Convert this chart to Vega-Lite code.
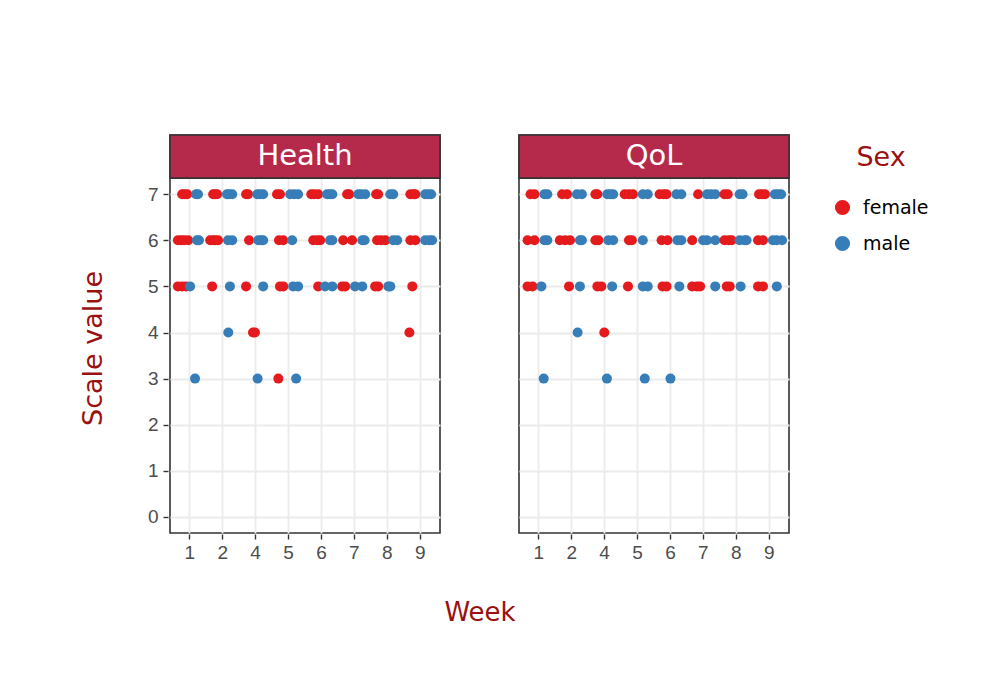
{
  "$schema": "https://vega.github.io/schema/vega-lite/v6.json",
  "background": "white",
  "padding": {"left": 79, "top": 133, "right": 10, "bottom": 10},
  "config": {
    "view": {"stroke": "#333333", "strokeWidth": 1.6},
    "font": "DejaVu Sans"
  },
  "data": {"values": [
    {"panel":"Health","week":1,"jitter":-0.23,"value":7,"sex":"female"},
    {"panel":"Health","week":1,"jitter":-0.17,"value":7,"sex":"female"},
    {"panel":"Health","week":1,"jitter":-0.08,"value":7,"sex":"female"},
    {"panel":"Health","week":1,"jitter":0.19,"value":7,"sex":"male"},
    {"panel":"Health","week":1,"jitter":0.25,"value":7,"sex":"male"},
    {"panel":"Health","week":2,"jitter":-0.29,"value":7,"sex":"female"},
    {"panel":"Health","week":2,"jitter":-0.23,"value":7,"sex":"female"},
    {"panel":"Health","week":2,"jitter":-0.17,"value":7,"sex":"female"},
    {"panel":"Health","week":2,"jitter":0.13,"value":7,"sex":"male"},
    {"panel":"Health","week":2,"jitter":0.19,"value":7,"sex":"male"},
    {"panel":"Health","week":2,"jitter":0.29,"value":7,"sex":"male"},
    {"panel":"Health","week":4,"jitter":-0.29,"value":7,"sex":"female"},
    {"panel":"Health","week":4,"jitter":-0.23,"value":7,"sex":"female"},
    {"panel":"Health","week":4,"jitter":0.05,"value":7,"sex":"male"},
    {"panel":"Health","week":4,"jitter":0.14,"value":7,"sex":"male"},
    {"panel":"Health","week":4,"jitter":0.23,"value":7,"sex":"male"},
    {"panel":"Health","week":5,"jitter":-0.35,"value":7,"sex":"female"},
    {"panel":"Health","week":5,"jitter":-0.26,"value":7,"sex":"female"},
    {"panel":"Health","week":5,"jitter":0.05,"value":7,"sex":"male"},
    {"panel":"Health","week":5,"jitter":0.17,"value":7,"sex":"male"},
    {"panel":"Health","week":5,"jitter":0.29,"value":7,"sex":"male"},
    {"panel":"Health","week":6,"jitter":-0.31,"value":7,"sex":"female"},
    {"panel":"Health","week":6,"jitter":-0.22,"value":7,"sex":"female"},
    {"panel":"Health","week":6,"jitter":-0.10,"value":7,"sex":"female"},
    {"panel":"Health","week":6,"jitter":0.17,"value":7,"sex":"male"},
    {"panel":"Health","week":6,"jitter":0.26,"value":7,"sex":"male"},
    {"panel":"Health","week":6,"jitter":0.33,"value":7,"sex":"male"},
    {"panel":"Health","week":7,"jitter":-0.22,"value":7,"sex":"female"},
    {"panel":"Health","week":7,"jitter":-0.16,"value":7,"sex":"female"},
    {"panel":"Health","week":7,"jitter":0.12,"value":7,"sex":"male"},
    {"panel":"Health","week":7,"jitter":0.21,"value":7,"sex":"male"},
    {"panel":"Health","week":7,"jitter":0.33,"value":7,"sex":"male"},
    {"panel":"Health","week":8,"jitter":-0.34,"value":7,"sex":"female"},
    {"panel":"Health","week":8,"jitter":-0.28,"value":7,"sex":"female"},
    {"panel":"Health","week":8,"jitter":0.09,"value":7,"sex":"male"},
    {"panel":"Health","week":8,"jitter":0.18,"value":7,"sex":"male"},
    {"panel":"Health","week":9,"jitter":-0.30,"value":7,"sex":"female"},
    {"panel":"Health","week":9,"jitter":-0.21,"value":7,"sex":"female"},
    {"panel":"Health","week":9,"jitter":-0.15,"value":7,"sex":"female"},
    {"panel":"Health","week":9,"jitter":0.15,"value":7,"sex":"male"},
    {"panel":"Health","week":9,"jitter":0.24,"value":7,"sex":"male"},
    {"panel":"Health","week":9,"jitter":0.33,"value":7,"sex":"male"},

    {"panel":"Health","week":1,"jitter":-0.36,"value":6,"sex":"female"},
    {"panel":"Health","week":1,"jitter":-0.26,"value":6,"sex":"female"},
    {"panel":"Health","week":1,"jitter":-0.17,"value":6,"sex":"female"},
    {"panel":"Health","week":1,"jitter":-0.05,"value":6,"sex":"female"},
    {"panel":"Health","week":1,"jitter":0.22,"value":6,"sex":"male"},
    {"panel":"Health","week":1,"jitter":0.28,"value":6,"sex":"male"},
    {"panel":"Health","week":2,"jitter":-0.38,"value":6,"sex":"female"},
    {"panel":"Health","week":2,"jitter":-0.29,"value":6,"sex":"female"},
    {"panel":"Health","week":2,"jitter":-0.23,"value":6,"sex":"female"},
    {"panel":"Health","week":2,"jitter":-0.14,"value":6,"sex":"female"},
    {"panel":"Health","week":2,"jitter":0.16,"value":6,"sex":"male"},
    {"panel":"Health","week":2,"jitter":0.29,"value":6,"sex":"male"},
    {"panel":"Health","week":4,"jitter":-0.20,"value":6,"sex":"female"},
    {"panel":"Health","week":4,"jitter":0.08,"value":6,"sex":"male"},
    {"panel":"Health","week":4,"jitter":0.17,"value":6,"sex":"male"},
    {"panel":"Health","week":4,"jitter":0.23,"value":6,"sex":"male"},
    {"panel":"Health","week":5,"jitter":-0.29,"value":6,"sex":"female"},
    {"panel":"Health","week":5,"jitter":-0.16,"value":6,"sex":"female"},
    {"panel":"Health","week":5,"jitter":0.11,"value":6,"sex":"male"},
    {"panel":"Health","week":6,"jitter":-0.25,"value":6,"sex":"female"},
    {"panel":"Health","week":6,"jitter":-0.13,"value":6,"sex":"female"},
    {"panel":"Health","week":6,"jitter":-0.04,"value":6,"sex":"female"},
    {"panel":"Health","week":6,"jitter":0.26,"value":6,"sex":"male"},
    {"panel":"Health","week":6,"jitter":0.33,"value":6,"sex":"male"},
    {"panel":"Health","week":7,"jitter":-0.34,"value":6,"sex":"female"},
    {"panel":"Health","week":7,"jitter":-0.07,"value":6,"sex":"female"},
    {"panel":"Health","week":7,"jitter":0.24,"value":6,"sex":"male"},
    {"panel":"Health","week":7,"jitter":0.31,"value":6,"sex":"male"},
    {"panel":"Health","week":8,"jitter":-0.31,"value":6,"sex":"female"},
    {"panel":"Health","week":8,"jitter":-0.19,"value":6,"sex":"female"},
    {"panel":"Health","week":8,"jitter":-0.06,"value":6,"sex":"female"},
    {"panel":"Health","week":8,"jitter":0.18,"value":6,"sex":"male"},
    {"panel":"Health","week":8,"jitter":0.30,"value":6,"sex":"male"},
    {"panel":"Health","week":9,"jitter":-0.30,"value":6,"sex":"female"},
    {"panel":"Health","week":9,"jitter":-0.15,"value":6,"sex":"female"},
    {"panel":"Health","week":9,"jitter":0.15,"value":6,"sex":"male"},
    {"panel":"Health","week":9,"jitter":0.27,"value":6,"sex":"male"},
    {"panel":"Health","week":9,"jitter":0.36,"value":6,"sex":"male"},

    {"panel":"Health","week":1,"jitter":-0.36,"value":5,"sex":"female"},
    {"panel":"Health","week":1,"jitter":-0.23,"value":5,"sex":"female"},
    {"panel":"Health","week":1,"jitter":-0.11,"value":5,"sex":"female"},
    {"panel":"Health","week":1,"jitter":0.01,"value":5,"sex":"male"},
    {"panel":"Health","week":2,"jitter":-0.32,"value":5,"sex":"female"},
    {"panel":"Health","week":2,"jitter":0.22,"value":5,"sex":"male"},
    {"panel":"Health","week":4,"jitter":-0.29,"value":5,"sex":"female"},
    {"panel":"Health","week":4,"jitter":0.23,"value":5,"sex":"male"},
    {"panel":"Health","week":5,"jitter":-0.26,"value":5,"sex":"female"},
    {"panel":"Health","week":5,"jitter":-0.16,"value":5,"sex":"female"},
    {"panel":"Health","week":5,"jitter":0.14,"value":5,"sex":"male"},
    {"panel":"Health","week":5,"jitter":0.29,"value":5,"sex":"male"},
    {"panel":"Health","week":6,"jitter":-0.10,"value":5,"sex":"female"},
    {"panel":"Health","week":6,"jitter":0.11,"value":5,"sex":"male"},
    {"panel":"Health","week":6,"jitter":0.33,"value":5,"sex":"male"},
    {"panel":"Health","week":7,"jitter":-0.37,"value":5,"sex":"female"},
    {"panel":"Health","week":7,"jitter":-0.28,"value":5,"sex":"female"},
    {"panel":"Health","week":7,"jitter":0.02,"value":5,"sex":"male"},
    {"panel":"Health","week":7,"jitter":0.24,"value":5,"sex":"male"},
    {"panel":"Health","week":8,"jitter":-0.37,"value":5,"sex":"female"},
    {"panel":"Health","week":8,"jitter":-0.28,"value":5,"sex":"female"},
    {"panel":"Health","week":8,"jitter":0.03,"value":5,"sex":"male"},
    {"panel":"Health","week":8,"jitter":0.09,"value":5,"sex":"male"},
    {"panel":"Health","week":9,"jitter":-0.24,"value":5,"sex":"female"},

    {"panel":"Health","week":2,"jitter":0.17,"value":4,"sex":"male"},
    {"panel":"Health","week":4,"jitter":-0.08,"value":4,"sex":"female"},
    {"panel":"Health","week":4,"jitter":-0.02,"value":4,"sex":"female"},
    {"panel":"Health","week":9,"jitter":-0.33,"value":4,"sex":"female"},
    {"panel":"Health","week":1,"jitter":0.16,"value":3,"sex":"male"},
    {"panel":"Health","week":4,"jitter":0.06,"value":3,"sex":"male"},
    {"panel":"Health","week":5,"jitter":-0.31,"value":3,"sex":"female"},
    {"panel":"Health","week":5,"jitter":0.23,"value":3,"sex":"male"},

    {"panel":"QoL","week":1,"jitter":-0.25,"value":7,"sex":"female"},
    {"panel":"QoL","week":1,"jitter":-0.13,"value":7,"sex":"female"},
    {"panel":"QoL","week":1,"jitter":0.17,"value":7,"sex":"male"},
    {"panel":"QoL","week":1,"jitter":0.26,"value":7,"sex":"male"},
    {"panel":"QoL","week":2,"jitter":-0.29,"value":7,"sex":"female"},
    {"panel":"QoL","week":2,"jitter":-0.14,"value":7,"sex":"female"},
    {"panel":"QoL","week":2,"jitter":0.16,"value":7,"sex":"male"},
    {"panel":"QoL","week":2,"jitter":0.31,"value":7,"sex":"male"},
    {"panel":"QoL","week":4,"jitter":-0.28,"value":7,"sex":"female"},
    {"panel":"QoL","week":4,"jitter":-0.22,"value":7,"sex":"female"},
    {"panel":"QoL","week":4,"jitter":0.08,"value":7,"sex":"male"},
    {"panel":"QoL","week":4,"jitter":0.17,"value":7,"sex":"male"},
    {"panel":"QoL","week":4,"jitter":0.26,"value":7,"sex":"male"},
    {"panel":"QoL","week":5,"jitter":-0.39,"value":7,"sex":"female"},
    {"panel":"QoL","week":5,"jitter":-0.26,"value":7,"sex":"female"},
    {"panel":"QoL","week":5,"jitter":-0.14,"value":7,"sex":"female"},
    {"panel":"QoL","week":5,"jitter":0.16,"value":7,"sex":"male"},
    {"panel":"QoL","week":5,"jitter":0.31,"value":7,"sex":"male"},
    {"panel":"QoL","week":6,"jitter":-0.33,"value":7,"sex":"female"},
    {"panel":"QoL","week":6,"jitter":-0.21,"value":7,"sex":"female"},
    {"panel":"QoL","week":6,"jitter":-0.12,"value":7,"sex":"female"},
    {"panel":"QoL","week":6,"jitter":0.18,"value":7,"sex":"male"},
    {"panel":"QoL","week":6,"jitter":0.33,"value":7,"sex":"male"},
    {"panel":"QoL","week":7,"jitter":-0.16,"value":7,"sex":"female"},
    {"panel":"QoL","week":7,"jitter":0.11,"value":7,"sex":"male"},
    {"panel":"QoL","week":7,"jitter":0.23,"value":7,"sex":"male"},
    {"panel":"QoL","week":7,"jitter":0.36,"value":7,"sex":"male"},
    {"panel":"QoL","week":8,"jitter":-0.36,"value":7,"sex":"female"},
    {"panel":"QoL","week":8,"jitter":-0.26,"value":7,"sex":"female"},
    {"panel":"QoL","week":8,"jitter":0.10,"value":7,"sex":"male"},
    {"panel":"QoL","week":8,"jitter":0.19,"value":7,"sex":"male"},
    {"panel":"QoL","week":9,"jitter":-0.31,"value":7,"sex":"female"},
    {"panel":"QoL","week":9,"jitter":-0.22,"value":7,"sex":"female"},
    {"panel":"QoL","week":9,"jitter":-0.13,"value":7,"sex":"female"},
    {"panel":"QoL","week":9,"jitter":0.17,"value":7,"sex":"male"},
    {"panel":"QoL","week":9,"jitter":0.26,"value":7,"sex":"male"},
    {"panel":"QoL","week":9,"jitter":0.36,"value":7,"sex":"male"},

    {"panel":"QoL","week":1,"jitter":-0.34,"value":6,"sex":"female"},
    {"panel":"QoL","week":1,"jitter":-0.13,"value":6,"sex":"female"},
    {"panel":"QoL","week":1,"jitter":0.17,"value":6,"sex":"male"},
    {"panel":"QoL","week":1,"jitter":0.26,"value":6,"sex":"male"},
    {"panel":"QoL","week":2,"jitter":-0.36,"value":6,"sex":"female"},
    {"panel":"QoL","week":2,"jitter":-0.20,"value":6,"sex":"female"},
    {"panel":"QoL","week":2,"jitter":-0.05,"value":6,"sex":"female"},
    {"panel":"QoL","week":2,"jitter":0.25,"value":6,"sex":"male"},
    {"panel":"QoL","week":2,"jitter":0.31,"value":6,"sex":"male"},
    {"panel":"QoL","week":4,"jitter":-0.28,"value":6,"sex":"female"},
    {"panel":"QoL","week":4,"jitter":-0.19,"value":6,"sex":"female"},
    {"panel":"QoL","week":4,"jitter":0.11,"value":6,"sex":"male"},
    {"panel":"QoL","week":4,"jitter":0.26,"value":6,"sex":"male"},
    {"panel":"QoL","week":5,"jitter":-0.26,"value":6,"sex":"female"},
    {"panel":"QoL","week":5,"jitter":-0.17,"value":6,"sex":"female"},
    {"panel":"QoL","week":5,"jitter":0.16,"value":6,"sex":"male"},
    {"panel":"QoL","week":6,"jitter":-0.27,"value":6,"sex":"female"},
    {"panel":"QoL","week":6,"jitter":-0.09,"value":6,"sex":"female"},
    {"panel":"QoL","week":6,"jitter":0.21,"value":6,"sex":"male"},
    {"panel":"QoL","week":6,"jitter":0.33,"value":6,"sex":"male"},
    {"panel":"QoL","week":7,"jitter":-0.34,"value":6,"sex":"female"},
    {"panel":"QoL","week":7,"jitter":-0.01,"value":6,"sex":"male"},
    {"panel":"QoL","week":7,"jitter":0.11,"value":6,"sex":"male"},
    {"panel":"QoL","week":7,"jitter":0.36,"value":6,"sex":"male"},
    {"panel":"QoL","week":8,"jitter":-0.36,"value":6,"sex":"female"},
    {"panel":"QoL","week":8,"jitter":-0.23,"value":6,"sex":"female"},
    {"panel":"QoL","week":8,"jitter":-0.14,"value":6,"sex":"female"},
    {"panel":"QoL","week":8,"jitter":0.10,"value":6,"sex":"male"},
    {"panel":"QoL","week":8,"jitter":0.25,"value":6,"sex":"male"},
    {"panel":"QoL","week":8,"jitter":0.31,"value":6,"sex":"male"},
    {"panel":"QoL","week":9,"jitter":-0.34,"value":6,"sex":"female"},
    {"panel":"QoL","week":9,"jitter":-0.19,"value":6,"sex":"female"},
    {"panel":"QoL","week":9,"jitter":0.11,"value":6,"sex":"male"},
    {"panel":"QoL","week":9,"jitter":0.23,"value":6,"sex":"male"},
    {"panel":"QoL","week":9,"jitter":0.39,"value":6,"sex":"male"},

    {"panel":"QoL","week":1,"jitter":-0.34,"value":5,"sex":"female"},
    {"panel":"QoL","week":1,"jitter":-0.19,"value":5,"sex":"female"},
    {"panel":"QoL","week":1,"jitter":0.08,"value":5,"sex":"male"},
    {"panel":"QoL","week":2,"jitter":-0.08,"value":5,"sex":"female"},
    {"panel":"QoL","week":2,"jitter":0.25,"value":5,"sex":"male"},
    {"panel":"QoL","week":4,"jitter":-0.22,"value":5,"sex":"female"},
    {"panel":"QoL","week":4,"jitter":-0.10,"value":5,"sex":"female"},
    {"panel":"QoL","week":4,"jitter":0.23,"value":5,"sex":"male"},
    {"panel":"QoL","week":5,"jitter":-0.29,"value":5,"sex":"female"},
    {"panel":"QoL","week":5,"jitter":0.16,"value":5,"sex":"male"},
    {"panel":"QoL","week":5,"jitter":0.31,"value":5,"sex":"male"},
    {"panel":"QoL","week":6,"jitter":-0.24,"value":5,"sex":"female"},
    {"panel":"QoL","week":6,"jitter":-0.12,"value":5,"sex":"female"},
    {"panel":"QoL","week":6,"jitter":0.27,"value":5,"sex":"male"},
    {"panel":"QoL","week":7,"jitter":-0.34,"value":5,"sex":"female"},
    {"panel":"QoL","week":7,"jitter":-0.19,"value":5,"sex":"female"},
    {"panel":"QoL","week":7,"jitter":-0.10,"value":5,"sex":"female"},
    {"panel":"QoL","week":7,"jitter":0.36,"value":5,"sex":"male"},
    {"panel":"QoL","week":8,"jitter":-0.29,"value":5,"sex":"female"},
    {"panel":"QoL","week":8,"jitter":-0.20,"value":5,"sex":"female"},
    {"panel":"QoL","week":8,"jitter":0.13,"value":5,"sex":"male"},
    {"panel":"QoL","week":9,"jitter":-0.34,"value":5,"sex":"female"},
    {"panel":"QoL","week":9,"jitter":-0.19,"value":5,"sex":"female"},
    {"panel":"QoL","week":9,"jitter":0.23,"value":5,"sex":"male"},

    {"panel":"QoL","week":2,"jitter":0.18,"value":4,"sex":"male"},
    {"panel":"QoL","week":4,"jitter":-0.01,"value":4,"sex":"female"},
    {"panel":"QoL","week":1,"jitter":0.15,"value":3,"sex":"male"},
    {"panel":"QoL","week":4,"jitter":0.07,"value":3,"sex":"male"},
    {"panel":"QoL","week":5,"jitter":0.22,"value":3,"sex":"male"},
    {"panel":"QoL","week":6,"jitter":0.0,"value":3,"sex":"male"}
  ]},
  "facet": {
    "column": {
      "field": "panel", "type": "nominal", "sort": ["Health", "QoL"],
      "header": {
        "title": "Week", "titleOrient": "bottom", "labels": false,
        "titleFont": "DejaVu Sans", "titleFontSize": 26, "titleColor": "#9B1111",
        "titleFontWeight": "normal", "titlePadding": 28
      }
    }
  },
  "spacing": 75,
  "spec": {
    "width": 270,
    "height": 398,
    "layer": [
      {
        "mark": {"type": "point", "filled": true, "size": 100, "opacity": 1, "strokeWidth": 0},
        "encoding": {
          "x": {
            "field": "week", "type": "ordinal", "title": null,
            "scale": {"type": "band", "paddingInner": 0, "paddingOuter": 0.1},
            "axis": {
              "grid": true, "gridColor": "#EBEBEB", "gridWidth": 1.8, "bandPosition": 0.5,
              "domain": false, "tickColor": "#333333", "tickSize": 5, "tickWidth": 1.4,
              "labelAngle": 0, "labelFont": "Liberation Sans", "labelFontSize": 19,
              "labelColor": "#4D4D4D", "labelPadding": 4
            }
          },
          "xOffset": {"field": "jitter", "type": "quantitative", "scale": {"domain": [-0.5, 0.5]}},
          "y": {
            "field": "value", "type": "quantitative", "title": "Scale value",
            "scale": {"domain": [-0.35, 8.285], "nice": false, "zero": false},
            "axis": {
              "values": [0, 0.5, 1, 1.5, 2, 2.5, 3, 3.5, 4, 4.5, 5, 5.5, 6, 6.5, 7],
              "labelExpr": "datum.value % 1 === 0 ? datum.label : ''",
              "grid": true, "gridColor": "#EBEBEB",
              "gridWidth": {"condition": {"test": "datum.value % 1 === 0", "value": 1.8}, "value": 1.2},
              "tickOpacity": {"condition": {"test": "datum.value % 1 === 0", "value": 1}, "value": 0},
              "domain": false, "tickColor": "#333333", "tickSize": 5, "tickWidth": 1.4,
              "labelFont": "Liberation Sans", "labelFontSize": 19, "labelColor": "#4D4D4D",
              "labelPadding": 5,
              "titleFont": "DejaVu Sans", "titleFontSize": 27, "titleColor": "#9B1111",
              "titleFontWeight": "normal", "titlePadding": 40, "titleY": 213
            }
          },
          "color": {
            "field": "sex", "type": "nominal", "title": "Sex",
            "scale": {"domain": ["female", "male"], "range": ["#E41A1C", "#377EB8"]},
            "legend": {
              "orient": "right", "offset": 32, "padding": 10, "symbolType": "circle", "symbolSize": 230,
              "symbolStrokeWidth": 0,
              "titleFont": "DejaVu Sans", "titleFontSize": 27, "titleColor": "#9B1111",
              "titleFontWeight": "normal", "titlePadding": 26, "titleAnchor": "middle",
              "labelFont": "DejaVu Sans", "labelFontSize": 19, "labelColor": "#000000",
              "rowPadding": 16, "labelOffset": 11
            }
          }
        }
      },
      {
        "transform": [{"aggregate": [{"op": "count", "as": "n"}], "groupby": ["panel"]}],
        "mark": {"type": "rect", "fill": "#B5294B", "stroke": "#333333", "strokeWidth": 1.6},
        "encoding": {"y": {"datum": 7.35}, "y2": {"datum": 8.285}}
      },
      {
        "transform": [{"aggregate": [{"op": "count", "as": "n"}], "groupby": ["panel"]}],
        "mark": {"type": "text", "color": "white", "fontSize": 29, "font": "DejaVu Sans", "baseline": "middle"},
        "encoding": {"y": {"datum": 7.82}, "text": {"field": "panel"}}
      }
    ]
  }
}
